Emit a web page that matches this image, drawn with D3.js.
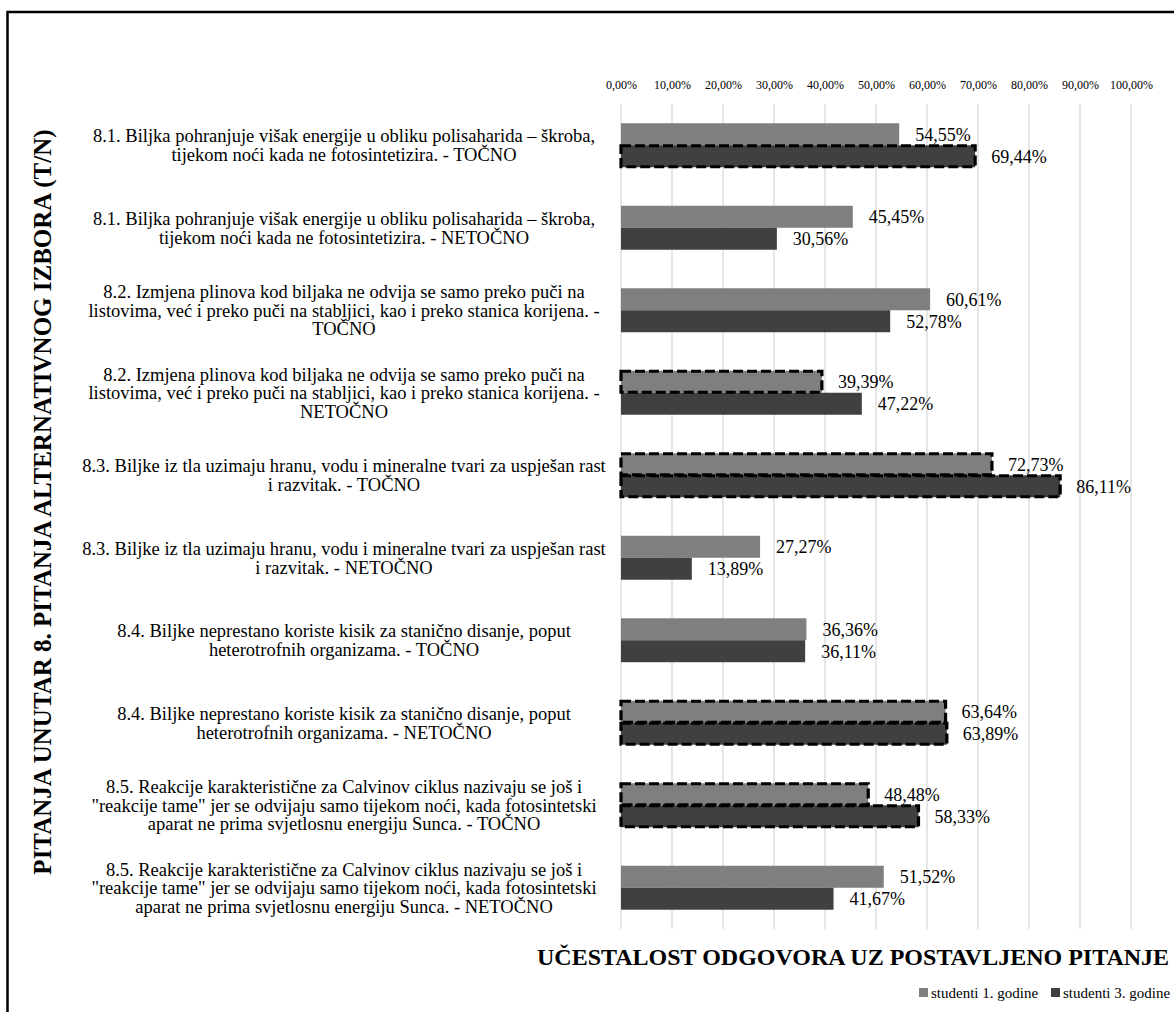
<!DOCTYPE html>
<html>
<head>
<meta charset="utf-8">
<script src="https://cdn.jsdelivr.net/npm/d3@7"></script>
<style>
  html, body { margin: 0; padding: 0; background: #fff; }
  svg text { font-family: "Liberation Serif", "Times New Roman", serif; fill: #000; }
</style>
</head>
<body>
<div id="chart"></div>
<script>
// questions, one per row (\n = line break as in the original)
var categories = [
    "8.1. Biljka pohranjuje višak energije u obliku polisaharida – škroba,\ntijekom noći kada ne fotosintetizira. - TOČNO",
    "8.1. Biljka pohranjuje višak energije u obliku polisaharida – škroba,\ntijekom noći kada ne fotosintetizira. - NETOČNO",
    "8.2. Izmjena plinova kod biljaka ne odvija se samo preko puči na\nlistovima, već i preko puči na stabljici, kao i preko stanica korijena. -\nTOČNO",
    "8.2. Izmjena plinova kod biljaka ne odvija se samo preko puči na\nlistovima, već i preko puči na stabljici, kao i preko stanica korijena. -\nNETOČNO",
    "8.3. Biljke iz tla uzimaju hranu, vodu i mineralne tvari za uspješan rast\ni razvitak. - TOČNO",
    "8.3. Biljke iz tla uzimaju hranu, vodu i mineralne tvari za uspješan rast\ni razvitak. - NETOČNO",
    "8.4. Biljke neprestano koriste kisik za stanično disanje, poput\nheterotrofnih organizama. - TOČNO",
    "8.4. Biljke neprestano koriste kisik za stanično disanje, poput\nheterotrofnih organizama. - NETOČNO",
    "8.5. Reakcije karakteristične za Calvinov ciklus nazivaju se još i\n\"reakcije tame\" jer se odvijaju samo tijekom noći, kada fotosintetski\naparat ne prima svjetlosnu energiju Sunca. - TOČNO",
    "8.5. Reakcije karakteristične za Calvinov ciklus nazivaju se još i\n\"reakcije tame\" jer se odvijaju samo tijekom noći, kada fotosintetski\naparat ne prima svjetlosnu energiju Sunca. - NETOČNO"
];

var seriesNames = ["studenti 1. godine", "studenti 3. godine"];
var firstYear = [54.55, 45.45, 60.61, 39.39, 72.73, 27.27, 36.36, 63.64, 48.48, 51.52];
var thirdYear = [69.44, 30.56, 52.78, 47.22, 86.11, 13.89, 36.11, 63.89, 58.33, 41.67];

// bars outlined with a dashed border in the original
var markedFirst = [false, false, false, true, true, false, false, true, true, false];
var markedThird = [true, false, false, false, true, false, false, true, true, false];

var tickValues = [0, 10, 20, 30, 40, 50, 60, 70, 80, 90, 100];

var yTitle = "PITANJA UNUTAR 8. PITANJA ALTERNATIVNOG IZBORA (T/N)";
var xTitle = "UČESTALOST ODGOVORA UZ POSTAVLJENO PITANJE";

var colors = ["#7f7f7f", "#404040"];

var W = 1174, H = 1012;
var plot = {left: 621, right: 1131, top: 104, bottom: 929};
var serif = '"Liberation Serif", "Times New Roman", serif';

var fmt = function(v) { return v.toFixed(2).replace('.', ',') + '%'; };

var svg = d3.select('#chart').append('svg')
    .attr('width', W)
    .attr('height', H);

// outer frame (runs off the right and bottom edges)
svg.append('rect')
    .attr('x', 7.5).attr('y', 12)
    .attr('width', W + 20).attr('height', H + 20)
    .style('fill', 'none')
    .style('stroke', '#000')
    .style('stroke-width', 2.5);

var x = d3.scaleLinear().domain([0, 100]).range([plot.left, plot.right]);

var y = d3.scaleBand()
    .domain(d3.range(categories.length))
    .range([plot.top, plot.bottom])
    .paddingInner(0.467)
    .paddingOuter(0.2335);

var ySub = d3.scaleBand()
    .domain([0, 1])
    .range([0, y.bandwidth()]);

// gridlines
svg.append('g')
    .selectAll('line')
    .data(tickValues)
    .enter()
    .append('line')
    .attr('x1', function(d) { return x(d); })
    .attr('x2', function(d) { return x(d); })
    .attr('y1', plot.top)
    .attr('y2', plot.bottom)
    .style('stroke', '#d9d9d9')
    .style('stroke-width', 1.3);

// top axis labels
var axis = svg.append('g')
    .attr('transform', 'translate(0,' + (plot.top - 12) + ')')
    .call(d3.axisTop(x).tickValues(tickValues).tickSize(0).tickFormat(function(d) { return fmt(d); }));
axis.select('.domain').remove();
axis.attr('font-family', null);
axis.selectAll('text')
    .style('font-family', serif)
    .style('font-size', '12px');

// bars
var rows = categories.map(function(c, i) {
    return [
        {s: 0, i: i, v: firstYear[i], marked: markedFirst[i]},
        {s: 1, i: i, v: thirdYear[i], marked: markedThird[i]}
    ];
});

var groups = svg.append('g')
    .selectAll('g')
    .data(rows)
    .enter()
    .append('g')
    .attr('transform', function(d, i) { return 'translate(0,' + y(i) + ')'; });

groups.selectAll('rect')
    .data(function(d) { return d; })
    .enter()
    .append('rect')
    .attr('x', x(0))
    .attr('y', function(d) { return ySub(d.s); })
    .attr('width', function(d) { return x(d.v) - x(0); })
    .attr('height', ySub.bandwidth())
    .style('fill', function(d) { return colors[d.s]; });

// dashed outlines on top of the fills
groups.selectAll('.outline')
    .data(function(d) { return d.filter(function(b) { return b.marked; }); })
    .enter()
    .append('rect')
    .attr('class', 'outline')
    .attr('x', x(0))
    .attr('y', function(d) { return ySub(d.s) + 0.5; })
    .attr('width', function(d) { return x(d.v) - x(0); })
    .attr('height', ySub.bandwidth() - 1)
    .style('fill', 'none')
    .style('stroke', '#000')
    .style('stroke-width', 3.2)
    .style('stroke-dasharray', '10,4');

// value labels
groups.selectAll('.val')
    .data(function(d) { return d; })
    .enter()
    .append('text')
    .attr('class', 'val')
    .attr('x', function(d) { return x(d.v) + 16; })
    .attr('y', function(d) { return ySub(d.s) + ySub.bandwidth() / 2; })
    .attr('dy', '0.35em')
    .style('font-size', '18px')
    .text(function(d) { return fmt(d.v); });

// category labels
var lineH = 18.6;
svg.append('g')
    .selectAll('text')
    .data(categories)
    .enter()
    .append('text')
    .attr('text-anchor', 'middle')
    .style('font-size', '18.5px')
    .each(function(d, i) {
        var lines = d.split('\n');
        var cy = y(i) + y.bandwidth() / 2;
        var start = cy - (lines.length - 1) * lineH / 2;
        d3.select(this).selectAll('tspan')
            .data(lines)
            .enter()
            .append('tspan')
            .attr('x', 344)
            .attr('y', function(l, k) { return start + k * lineH; })
            .attr('dy', '0.35em')
            .text(function(l) { return l; });
    });

// axis titles
svg.append('text')
    .attr('transform', 'translate(42,502) rotate(-90)')
    .attr('text-anchor', 'middle')
    .attr('dy', '0.35em')
    .style('font-size', '25px')
    .style('font-weight', 'bold')
    .text(yTitle);

svg.append('text')
    .attr('x', 537)
    .attr('y', 957)
    .attr('dy', '0.35em')
    .style('font-size', '24px')
    .style('font-weight', 'bold')
    .text(xTitle);

// legend
var legend = svg.append('g')
    .selectAll('g')
    .data(seriesNames)
    .enter()
    .append('g')
    .attr('transform', function(d, i) { return 'translate(' + (919 + i * 132) + ',993)'; });

legend.append('rect')
    .attr('x', 0).attr('y', -5)
    .attr('width', 9).attr('height', 9)
    .style('fill', function(d, i) { return colors[i]; });

legend.append('text')
    .attr('x', 12)
    .attr('dy', '0.35em')
    .style('font-size', '15px')
    .text(function(d) { return d; });
</script>
</body>
</html>
